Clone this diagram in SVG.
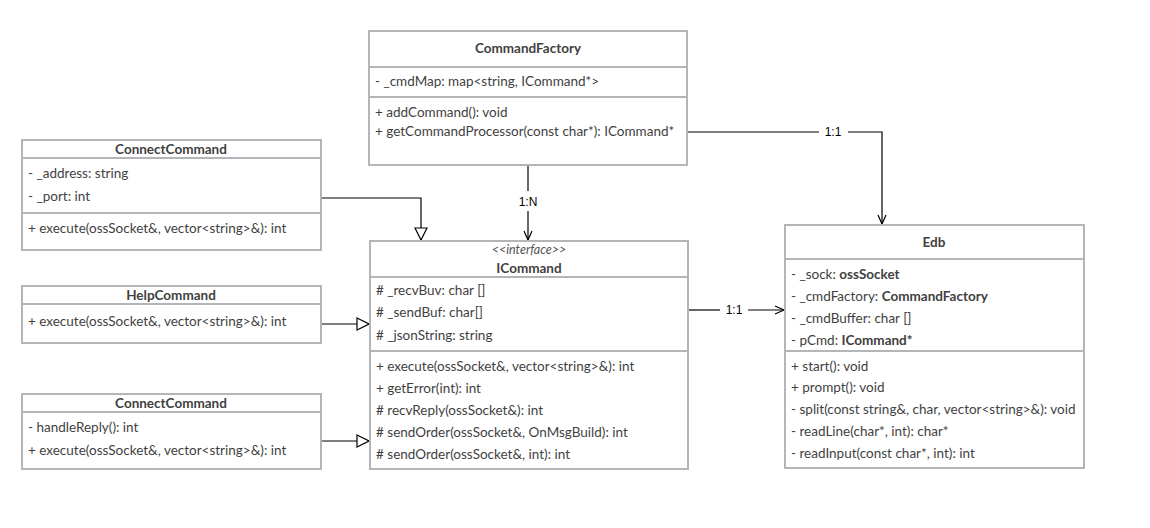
<svg xmlns="http://www.w3.org/2000/svg" width="1150" height="528" viewBox="0 0 1150 528">
<style>
.box{fill:#fff;stroke:#b3b6b9;stroke-width:2}
.sep{stroke:#b3b6b9;stroke-width:2}
.t{font-family:Lato,"Open Sans",sans-serif;font-size:13.5px;fill:#3f3f3f}
.h{font-family:Lato,"Open Sans",sans-serif;font-size:13.5px;font-weight:bold;fill:#3f3f3f;text-anchor:middle}
.st{font-family:Lato,"Open Sans",sans-serif;font-size:12.5px;font-style:italic;fill:#555;text-anchor:middle}
.b{font-weight:bold}
.ln{fill:none;stroke:#000;stroke-width:1.2}
.lbl{font-family:"Liberation Sans",Arial,sans-serif;font-size:12px;fill:#000;text-anchor:middle}
</style>
<defs>
<marker id="tri" markerWidth="14" markerHeight="14" refX="13" refY="7" orient="auto" markerUnits="userSpaceOnUse">
<path d="M1,1 L13,7 L1,13 Z" fill="#fff" stroke="#000" stroke-width="1.2"/>
</marker>
<marker id="open" markerWidth="12" markerHeight="12" refX="10" refY="6" orient="auto" markerUnits="userSpaceOnUse">
<path d="M1,2 L10,6 L1,10" fill="none" stroke="#000" stroke-width="1.2"/>
</marker>
</defs>
<rect width="1150" height="528" fill="#fff"/>

<g id="connectors">
<polyline class="ln" points="321,198 421,198 421,240" marker-end="url(#tri)"/>
<line class="ln" x1="321" y1="324" x2="369" y2="324" marker-end="url(#tri)"/>
<line class="ln" x1="321" y1="441" x2="369" y2="441" marker-end="url(#tri)"/>
<line class="ln" x1="528" y1="166" x2="528" y2="191"/>
<line class="ln" x1="528" y1="211" x2="528" y2="240" marker-end="url(#open)"/>
<text class="lbl" x="528" y="206">1:N</text>
<polyline class="ln" points="688,132 819,132"/>
<polyline class="ln" points="848,132 882,132 882,224" marker-end="url(#open)"/>
<text class="lbl" x="833" y="136">1:1</text>
<line class="ln" x1="689" y1="310" x2="720" y2="310"/>
<line class="ln" x1="748" y1="310" x2="784" y2="310" marker-end="url(#open)"/>
<text class="lbl" x="734" y="314">1:1</text>
</g>

<g id="CommandFactory">
<rect class="box" x="369" y="31" width="318" height="134"/>
<line class="sep" x1="369" y1="67" x2="687" y2="67"/>
<line class="sep" x1="369" y1="97" x2="687" y2="97"/>
<text class="h" x="528" y="53">CommandFactory</text>
<text class="t" x="375" y="86">- _cmdMap: map&lt;string, ICommand*&gt;</text>
<text class="t" x="375" y="117">+ addCommand(): void</text>
<text class="t" x="375" y="136">+ getCommandProcessor(const char*): ICommand*</text>
</g>

<g id="ConnectCommand1">
<rect class="box" x="22" y="140" width="299" height="110"/>
<line class="sep" x1="22" y1="158" x2="321" y2="158"/>
<line class="sep" x1="22" y1="213" x2="321" y2="213"/>
<text class="h" x="171" y="154">ConnectCommand</text>
<text class="t" x="28" y="178">- _address: string</text>
<text class="t" x="28" y="201">- _port: int</text>
<text class="t" x="28" y="233">+ execute(ossSocket&amp;, vector&lt;string&gt;&amp;): int</text>
</g>

<g id="HelpCommand">
<rect class="box" x="22" y="286" width="299" height="57"/>
<line class="sep" x1="22" y1="304" x2="321" y2="304"/>
<text class="h" x="171" y="300">HelpCommand</text>
<text class="t" x="28" y="326">+ execute(ossSocket&amp;, vector&lt;string&gt;&amp;): int</text>
</g>

<g id="ConnectCommand2">
<rect class="box" x="22" y="394" width="299" height="75"/>
<line class="sep" x1="22" y1="412" x2="321" y2="412"/>
<text class="h" x="171" y="408">ConnectCommand</text>
<text class="t" x="28" y="432">- handleReply(): int</text>
<text class="t" x="28" y="455">+ execute(ossSocket&amp;, vector&lt;string&gt;&amp;): int</text>
</g>

<g id="ICommand">
<rect class="box" x="370" y="241" width="318" height="228"/>
<line class="sep" x1="370" y1="277" x2="688" y2="277"/>
<line class="sep" x1="370" y1="351" x2="688" y2="351"/>
<text class="st" x="529" y="254">&lt;&lt;interface&gt;&gt;</text>
<text class="h" x="529" y="273">ICommand</text>
<text class="t" x="376" y="295"># _recvBuv: char []</text>
<text class="t" x="376" y="317"># _sendBuf: char[]</text>
<text class="t" x="376" y="340"># _jsonString: string</text>
<text class="t" x="376" y="371">+ execute(ossSocket&amp;, vector&lt;string&gt;&amp;): int</text>
<text class="t" x="376" y="393">+ getError(int): int</text>
<text class="t" x="376" y="415"># recvReply(ossSocket&amp;): int</text>
<text class="t" x="376" y="437"># sendOrder(ossSocket&amp;, OnMsgBuild): int</text>
<text class="t" x="376" y="459"># sendOrder(ossSocket&amp;, int): int</text>
</g>

<g id="Edb">
<rect class="box" x="785" y="225" width="299" height="243"/>
<line class="sep" x1="785" y1="259" x2="1084" y2="259"/>
<line class="sep" x1="785" y1="351" x2="1084" y2="351"/>
<text class="h" x="934" y="247">Edb</text>
<text class="t" x="791" y="279">- _sock: <tspan class="b">ossSocket</tspan></text>
<text class="t" x="791" y="301">- _cmdFactory: <tspan class="b">CommandFactory</tspan></text>
<text class="t" x="791" y="323">- _cmdBuffer: char []</text>
<text class="t" x="791" y="345">- pCmd: <tspan class="b">ICommand*</tspan></text>
<text class="t" x="791" y="371">+ start(): void</text>
<text class="t" x="791" y="392">+ prompt(): void</text>
<text class="t" x="791" y="414">- split(const string&amp;, char, vector&lt;string&gt;&amp;): void</text>
<text class="t" x="791" y="436">- readLine(char*, int): char*</text>
<text class="t" x="791" y="458">- readInput(const char*, int): int</text>
</g>
</svg>
